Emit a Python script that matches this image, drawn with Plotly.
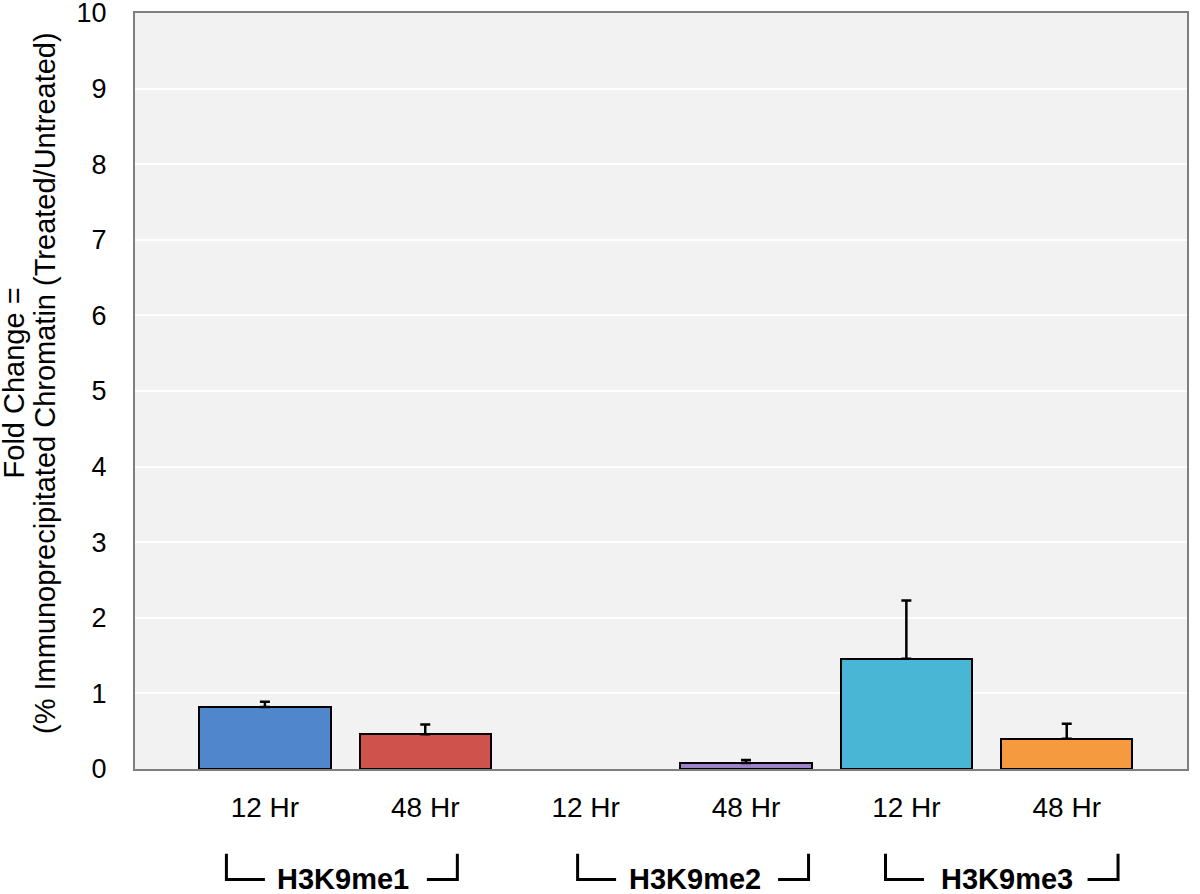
'''Fold change of H3K9 methylation ChIP, bar chart with error bars'''
import plotly.graph_objects as go

# data
time_labels = ["12 Hr", "48 Hr", "12 Hr", "48 Hr", "12 Hr", "48 Hr"]
fold_change = [0.82, 0.46, None, 0.08, 1.46, 0.40]
fold_err = [0.07, 0.13, None, 0.04, 0.77, 0.20]
bar_colors = ["#4f86cc", "#d0524c", "#9d82c9", "#9d82c9", "#4ab6d6", "#f59a3e"]
group_names = ["H3K9me1", "H3K9me2", "H3K9me3"]
title_lines = ["Fold Change =", "(% Immunoprecipitated Chromatin (Treated/Untreated)"]

FONT = "Liberation Sans, Arial, sans-serif"
x_pos = list(range(len(time_labels)))

fig = go.Figure()
fig.add_trace(go.Bar(
    x=x_pos,
    y=fold_change,
    width=0.82,
    marker=dict(color=bar_colors, line=dict(color="black", width=2)),
    error_y=dict(type="data", array=fold_err, arrayminus=[0] * len(fold_err),
                 symmetric=False, color="black", thickness=2.5, width=5),
    showlegend=False,
))

#brackets under each pair of bars: (left edge, right edge, label centre) in x units
bracket_spans = [(-0.24, 1.20, 0.49), (1.95, 3.39, 2.68), (3.87, 5.32, 4.63)]
y_top, y_bot = -0.112, -0.146
for (xl, xr, xc), name in zip(bracket_spans, group_names):
    fig.add_shape(type="path", xref="x", yref="paper",
                  path=f"M {xl} {y_top} L {xl} {y_bot} L {xl + 0.24} {y_bot}",
                  line=dict(color="black", width=3))
    fig.add_shape(type="path", xref="x", yref="paper",
                  path=f"M {xr - 0.19} {y_bot} L {xr} {y_bot} L {xr} {y_top}",
                  line=dict(color="black", width=3))
    fig.add_annotation(x=xc, y=y_bot, xref="x", yref="paper", text=f"<b>{name}</b>",
                       showarrow=False, xanchor="center", yanchor="middle",
                       font=dict(family="Liberation Sans Narrow, " + FONT, size=29, color="black"))

# y axis title, one annotation per line
for x_title, line in zip([-0.115, -0.085], title_lines):
    fig.add_annotation(x=x_title, y=0.51, xref="paper", yref="paper", textangle=-90,
                       text=line, showarrow=False, xanchor="center", yanchor="middle",
                       font=dict(family=FONT, size=29, color="black"))

fig.update_layout(
    width=1200, height=894,
    margin=dict(l=135, r=13, t=13, b=125, autoexpand=False),
    paper_bgcolor="white",
    plot_bgcolor="#f2f2f2",
    font=dict(family=FONT, color="black"),
    bargap=0,
)
fig.update_xaxes(
    range=[-0.81, 5.75], tickvals=x_pos, ticktext=time_labels,
    tickfont=dict(size=28), ticks="", ticklabelstandoff=12, automargin=False,
    showgrid=False, showline=True, linecolor="#7f7f7f", linewidth=2, mirror=True,
    zeroline=False,
)
fig.update_yaxes(
    range=[0, 10.0001], tickvals=list(range(11)), tickfont=dict(size=27), ticks="",
    ticklabelstandoff=21, ticklabeloverflow="allow", automargin=False,
    showgrid=True, gridcolor="white", gridwidth=2,
    showline=True, linecolor="#7f7f7f", linewidth=2, mirror=True, zeroline=False,
)

# drop the default body margin so the figure fills the window
fig.write_html("out.html", config={"displayModeBar": False},
               post_script="document.body.style.margin='0';")
